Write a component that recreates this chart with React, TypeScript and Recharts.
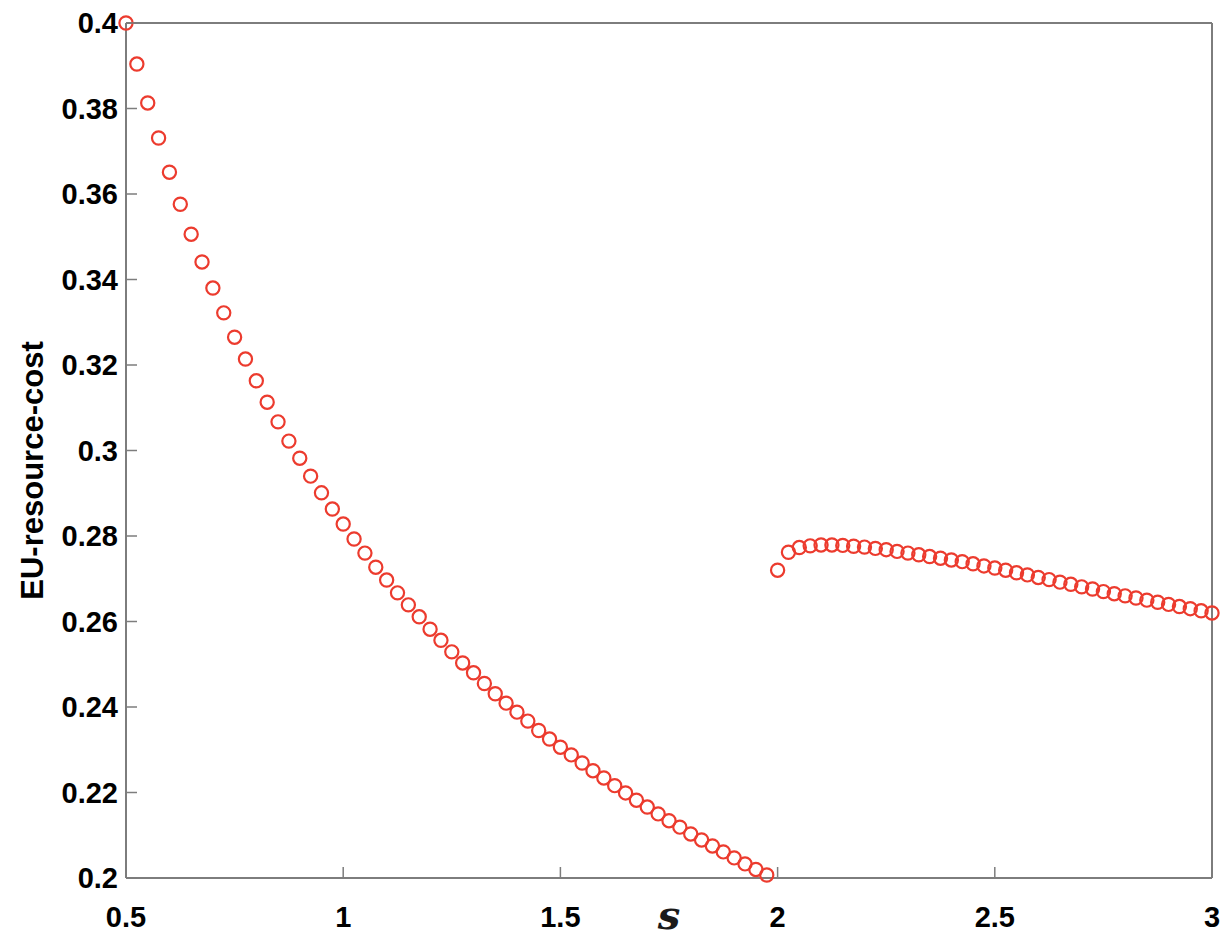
import React from 'react'
import { ScatterChart, Scatter, XAxis, YAxis } from 'recharts'

// s values, left branch (before the jump at s = 2)
const sLeft = [
    0.5, 0.525, 0.55, 0.575, 0.6, 0.625, 0.65, 0.675, 0.7, 0.725,
    0.75, 0.775, 0.8, 0.825, 0.85, 0.875, 0.9, 0.925, 0.95, 0.975,
    1.0, 1.025, 1.05, 1.075, 1.1, 1.125, 1.15, 1.175, 1.2, 1.225,
    1.25, 1.275, 1.3, 1.325, 1.35, 1.375, 1.4, 1.425, 1.45, 1.475,
    1.5, 1.525, 1.55, 1.575, 1.6, 1.625, 1.65, 1.675, 1.7, 1.725,
    1.75, 1.775, 1.8, 1.825, 1.85, 1.875, 1.9, 1.925, 1.95, 1.975
]
const costLeft = [
    0.4000, 0.3904, 0.3813, 0.3731, 0.3651, 0.3576, 0.3506, 0.3441, 0.3380, 0.3322,
    0.3265, 0.3214, 0.3163, 0.3113, 0.3067, 0.3022, 0.2982, 0.2940, 0.2901, 0.2863,
    0.2828, 0.2793, 0.2760, 0.2727, 0.2697, 0.2667, 0.2639, 0.2611, 0.2582, 0.2556,
    0.2529, 0.2503, 0.2480, 0.2455, 0.2431, 0.2409, 0.2388, 0.2367, 0.2345, 0.2325,
    0.2306, 0.2288, 0.2269, 0.2251, 0.2234, 0.2216, 0.2199, 0.2182, 0.2166, 0.2150,
    0.2134, 0.2119, 0.2103, 0.2089, 0.2075, 0.2061, 0.2047, 0.2033, 0.2020, 0.2007
]

// right branch
const sRight = [
    2.0, 2.025, 2.05, 2.075, 2.1, 2.125, 2.15, 2.175, 2.2, 2.225,
    2.25, 2.275, 2.3, 2.325, 2.35, 2.375, 2.4, 2.425, 2.45, 2.475,
    2.5, 2.525, 2.55, 2.575, 2.6, 2.625, 2.65, 2.675, 2.7, 2.725,
    2.75, 2.775, 2.8, 2.825, 2.85, 2.875, 2.9, 2.925, 2.95, 2.975,
    3.0
]
const costRight = [
    0.2720, 0.2762, 0.2773, 0.2777, 0.2779, 0.2779, 0.2778, 0.2776, 0.2774, 0.2771,
    0.2768, 0.2764, 0.2760, 0.2756, 0.2752, 0.2748, 0.2744, 0.2740, 0.2735, 0.2730,
    0.2725, 0.2720, 0.2714, 0.2709, 0.2703, 0.2698, 0.2692, 0.2687, 0.2681, 0.2676,
    0.2670, 0.2665, 0.2660, 0.2655, 0.2650, 0.2645, 0.2640, 0.2635, 0.2630, 0.2625,
    0.2620
]

const xTicks = [0.5, 1, 1.5, 2, 2.5, 3]
const yTicks = [0.2, 0.22, 0.24, 0.26, 0.28, 0.3, 0.32, 0.34, 0.36, 0.38, 0.4]

const leftData = sLeft.map((s, i) => ({ s, cost: costLeft[i] }))
const rightData = sRight.map((s, i) => ({ s, cost: costRight[i] }))

const RED = '#ec3b2e'
const AXIS = '#7d7d7d'
const FONT = 'Liberation Sans, Arial, sans-serif'
const TICK_LEN = 11
const X_MARGIN = 28
const Y_MARGIN = 8

const fmt = (v: number) => String(Number(v.toFixed(2)))

const OpenCircle = (props: any) => {
    const { cx, cy } = props
    if (cx == null || cy == null) return null
    return <circle cx={cx} cy={cy} r={6.6} fill="none" stroke={RED} strokeWidth={2.2} />
}

// ticks point inward, like matlab's box
const BottomTick = ({ x, y, payload }: any) => {
    const y0 = y - X_MARGIN
    return (
        <g>
            <line x1={x} y1={y0} x2={x} y2={y0 - TICK_LEN} stroke={AXIS} strokeWidth={1.5} />
            <text x={x} y={y} dy="0.71em" textAnchor="middle" fill="#000"
                style={{ fontSize: 29, fontWeight: 700, fontFamily: FONT }}>
                {fmt(payload.value)}
            </text>
        </g>
    )
}

const LeftTick = ({ x, y, payload }: any) => {
    const x0 = x + Y_MARGIN
    return (
        <g>
            <line x1={x0} y1={y} x2={x0 + TICK_LEN} y2={y} stroke={AXIS} strokeWidth={1.5} />
            <text x={x} y={y} dy="0.355em" textAnchor="end" fill="#000"
                style={{ fontSize: 29, fontWeight: 700, fontFamily: FONT }}>
                {fmt(payload.value)}
            </text>
        </g>
    )
}

const TopTick = ({ x, y }: any) => (
    <line x1={x} y1={y} x2={x} y2={y + TICK_LEN} stroke={AXIS} strokeWidth={1.5} />
)

const RightTick = ({ x, y }: any) => (
    <line x1={x} y1={y} x2={x - TICK_LEN} y2={y} stroke={AXIS} strokeWidth={1.5} />
)

const YLabel = (props: any) => {
    const vb = props.viewBox || {}
    const cx = vb.x + 24
    const cy = vb.y + vb.height / 2 + 20
    return (
        <text
            x={cx}
            y={cy}
            transform={`rotate(-90 ${cx} ${cy})`}
            textAnchor="middle"
            dominantBaseline="central"
            style={{ fontSize: 31, fontWeight: 700, fontFamily: FONT, fill: '#000' }}
        >
            EU-resource-cost
        </text>
    )
}

export default function App() {
    return (
        <div style={{ width: 1220, height: 930, background: '#fff' }}>
            <ScatterChart width={1220} height={930} margin={{ top: 14, right: 15, bottom: 0, left: 0 }}>
                <XAxis
                    xAxisId="b"
                    type="number"
                    dataKey="s"
                    domain={[0.5, 3]}
                    ticks={xTicks}
                    height={60}
                    tickLine={false}
                    tickSize={0}
                    tickMargin={X_MARGIN}
                    stroke={AXIS}
                    strokeWidth={2}
                    tick={<BottomTick />}
                    interval={0}
                    label={{
                        value: 's',
                        position: 'insideBottom',
                        offset: 9,
                        style: { fontStyle: 'italic', fontWeight: 600, fontFamily: 'DejaVu Serif, serif', fontSize: 40, fill: '#1a1a1a' }
                    }}
                />
                <XAxis
                    xAxisId="t"
                    orientation="top"
                    type="number"
                    dataKey="s"
                    domain={[0.5, 3]}
                    ticks={xTicks}
                    height={1}
                    tickLine={false}
                    tickSize={0}
                    tickMargin={0}
                    stroke={AXIS}
                    strokeWidth={2}
                    tick={<TopTick />}
                    interval={0}
                />
                <YAxis
                    yAxisId="l"
                    type="number"
                    dataKey="cost"
                    domain={[0.2, 0.4]}
                    ticks={yTicks}
                    width={118}
                    tickLine={false}
                    tickSize={0}
                    tickMargin={Y_MARGIN}
                    stroke={AXIS}
                    strokeWidth={2}
                    tick={<LeftTick />}
                    interval={0}
                    label={<YLabel />}
                />
                <YAxis
                    yAxisId="r"
                    orientation="right"
                    type="number"
                    dataKey="cost"
                    domain={[0.2, 0.4]}
                    ticks={yTicks}
                    width={1}
                    tickLine={false}
                    tickSize={0}
                    tickMargin={0}
                    stroke={AXIS}
                    strokeWidth={2}
                    tick={<RightTick />}
                    interval={0}
                />
                <Scatter
                    data={leftData}
                    xAxisId="b"
                    yAxisId="l"
                    shape={<OpenCircle />}
                    isAnimationActive={false}
                />
                <Scatter
                    data={rightData}
                    xAxisId="b"
                    yAxisId="l"
                    shape={<OpenCircle />}
                    isAnimationActive={false}
                />
            </ScatterChart>
        </div>
    )
}
